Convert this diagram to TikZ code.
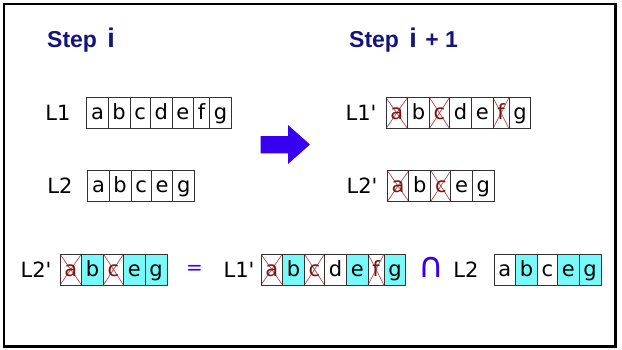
\documentclass[tikz,border=0pt]{standalone}
\usepackage{fontspec}
\usetikzlibrary{positioning}
\newfontfamily\cellfont{DejaVu Sans}
\newfontfamily\headfont{Liberation Sans}
\definecolor{stepnavy}{RGB}{20,20,125}
\definecolor{arrowblue}{RGB}{55,0,240}
\definecolor{keptcyan}{RGB}{120,250,250}
\definecolor{crossred}{RGB}{185,70,70}
\definecolor{gonetext}{RGB}{120,20,20}

\begin{document}
\begin{tikzpicture}[x=1pt, y=-1pt,
  cell/.style={draw=black!80, line width=0.9pt, outer sep=0pt, minimum height=31pt,
    inner xsep=4.3pt, inner ysep=0pt, text height=16pt, text depth=3pt,
    font=\cellfont\fontsize{21}{21}\selectfont},
  plain/.style={cell},
  kept/.style={cell, fill=keptcyan},
  gone/.style={cell, text=gonetext, path picture={
      \draw[crossred, line width=0.7pt]
        (path picture bounding box.north west) -- (path picture bounding box.south east)
        (path picture bounding box.south west) -- (path picture bounding box.north east);}},
  lbl/.style={font=\cellfont\fontsize{21}{21}\selectfont, inner sep=0pt},
  title/.style={font=\headfont\bfseries\fontsize{23}{23}\selectfont, text=stepnavy,
    inner sep=0pt, anchor=base west}]

  \useasboundingbox (0,0) rectangle (622,349);
  % Outer frame
  \draw[line width=2.5pt] (4,4) rectangle (615.5,346.5);

  % Headings
  \node[title] (stepA) at (47,47) {Step\hspace{4pt} {\fontsize{27}{27}\selectfont i}};
  \node[title] (stepB) at (349,47) {Step\hspace{4pt} {\fontsize{27}{27}\selectfont i}\hspace{2pt} + 1};

  % Step i: lists L1 and L2
  \node[lbl] (lblL1) at (58,113) {L1};
  \node[plain, anchor=west] (L1-1) at (86.7,113) {a};
  \foreach \l/\s [count=\k from 2, remember=\k as \p (initially 1)] in
    {b/plain, c/plain, d/plain, e/plain, f/plain, g/plain}
    \node[\s, right=0pt of L1-\p] (L1-\k) {\l};

  \node[lbl] (lblL2) at (60,186) {L2};
  \node[plain, anchor=west] (L2-1) at (87.7,186) {a};
  \foreach \l/\s [count=\k from 2, remember=\k as \p (initially 1)] in
    {b/plain, c/plain, e/plain, g/plain}
    \node[\s, right=0pt of L2-\p] (L2-\k) {\l};

  % Big arrow between the two steps
  \fill[arrowblue] (260.7,136) -- (288,136) -- (288,125) -- (310,144.5)
    -- (288,164) -- (288,153.3) -- (260.7,153.3) -- cycle;

  % Step i+1: pruned lists
  \node[lbl] (lblL1p) at (361,113) {L1'};
  \node[gone, anchor=west] (L1p-1) at (386,113) {a};
  \foreach \l/\s [count=\k from 2, remember=\k as \p (initially 1)] in
    {b/plain, c/gone, d/plain, e/plain, f/gone, g/plain}
    \node[\s, right=0pt of L1p-\p] (L1p-\k) {\l};

  \node[lbl] (lblL2p) at (362,186) {L2'};
  \node[gone, anchor=west] (L2p-1) at (387.3,186) {a};
  \foreach \l/\s [count=\k from 2, remember=\k as \p (initially 1)] in
    {b/plain, c/gone, e/plain, g/plain}
    \node[\s, right=0pt of L2p-\p] (L2p-\k) {\l};

  % Bottom line: L2' = L1' cap L2
  \node[lbl] (lblresL2p) at (36,269.5) {L2'};
  \node[gone, anchor=west] (resL2p-1) at (60,269.5) {a};
  \foreach \l/\s [count=\k from 2, remember=\k as \p (initially 1)] in
    {b/kept, c/gone, e/kept, g/kept}
    \node[\s, right=0pt of resL2p-\p] (resL2p-\k) {\l};

  \node[font=\cellfont\fontsize{20}{20}\selectfont, text=arrowblue] (eq) at (194.5,270) {=};

  \node[lbl] (lblresL1p) at (239,269.5) {L1'};
  \node[gone, anchor=west] (resL1p-1) at (261,269.5) {a};
  \foreach \l/\s [count=\k from 2, remember=\k as \p (initially 1)] in
    {b/kept, c/gone, d/plain, e/kept, f/gone, g/kept}
    \node[\s, right=0pt of resL1p-\p] (resL1p-\k) {\l};

  \node[font=\cellfont\fontsize{35}{35}\selectfont, text=arrowblue] (cap) at (431.7,267) {∩};

  \node[lbl] (lblresL2) at (466,269.5) {L2};
  \node[plain, anchor=west] (resL2-1) at (494,269.5) {a};
  \foreach \l/\s [count=\k from 2, remember=\k as \p (initially 1)] in
    {b/kept, c/plain, e/kept, g/kept}
    \node[\s, right=0pt of resL2-\p] (resL2-\k) {\l};
\end{tikzpicture}
\end{document}
